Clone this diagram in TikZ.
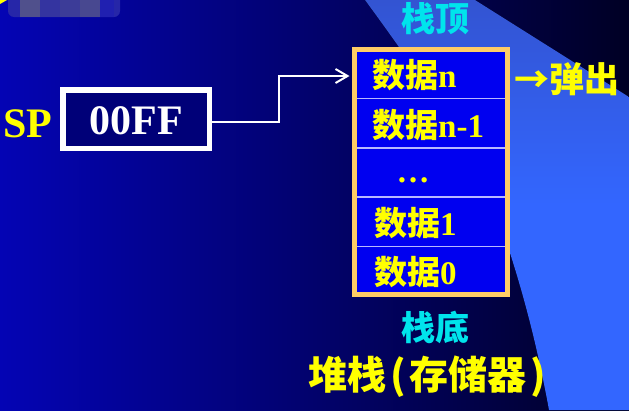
\documentclass[tikz,border=0pt]{standalone}
\usepackage{fontspec}
\setmainfont{Liberation Serif}
\newfontfamily\cjk{Noto Sans CJK SC}
\usetikzlibrary{arrows.meta}
\definecolor{bgL}{HTML}{0404B4}
\definecolor{bgR}{HTML}{000024}
\definecolor{swT}{HTML}{3354D2}
\definecolor{swB}{HTML}{3366FF}
\definecolor{stackfill}{HTML}{0000F0}
\definecolor{stackedge}{HTML}{FFCC66}
\definecolor{sepcol}{HTML}{B8B8FF}
\definecolor{spfill}{HTML}{000078}
\definecolor{ylw}{HTML}{FFFF00}
\definecolor{cyn}{HTML}{00E4EC}
\definecolor{mosA}{HTML}{2626A8}
\definecolor{mosB}{HTML}{50508C}
\definecolor{mosC}{HTML}{3434A0}
\definecolor{mosD}{HTML}{3C3C98}
\definecolor{mosE}{HTML}{484890}
\definecolor{mosF}{HTML}{2020B0}
\begin{document}
\begin{tikzpicture}[x=1pt,y=-1pt,
  rowtxt/.style={anchor=base west, inner sep=0pt, text=ylw,
    font=\fontsize{33pt}{33pt}\selectfont\bfseries},
  cyantxt/.style={inner sep=0pt, text=cyn,
    font=\cjk\fontsize{34pt}{34pt}\selectfont\bfseries},
  conn/.style={draw=white, line width=2pt,
    -{Straight Barb[length=12pt,width=14pt]}},
  seprule/.style={draw=sepcol, line width=1.5pt},
]
\useasboundingbox (0,0) rectangle (629,410);
% background
\fill[left color=bgL, right color=bgR] (0,0) rectangle (629,410);
% light blue swoosh
\fill[top color=swT, bottom color=swB, middle color=swB]
  (365,0) -- (475,0) -- (629,97) -- (629,410) -- (549,410)
  .. controls (538,350) and (525,300) .. (510,253)
  .. controls (480,160) and (420,75) .. (365,0) -- cycle;
% blurred mark top-left
\fill[mosA, rounded corners=6pt] (8,-10) rectangle (120,17);
\fill[mosB] (20,0) rectangle (40,17);
\fill[mosC] (40,0) rectangle (60,17);
\fill[mosD] (60,0) rectangle (80,17);
\fill[mosE] (80,0) rectangle (100,17);
\fill[mosF] (100,0) rectangle (114,17);
\fill[ylw] (0,0) -- (7,0) -- (0,4) -- cycle;

% SP register
\node[anchor=base west, inner sep=0pt, text=ylw,
  font=\fontsize{42pt}{42pt}\selectfont\bfseries] (sp) at (3,137) {SP};
\node[draw=white, line width=5.5pt, fill=spfill, minimum width=146.5pt,
  minimum height=58.5pt, inner sep=0pt, text=white,
  font=\fontsize{42pt}{42pt}\selectfont\bfseries,
  text height=30pt, text depth=0pt] (spbox) at (136,119) {00FF};

% stack
\node[draw=stackedge, line width=5pt, fill=stackfill, minimum width=153pt,
  minimum height=245pt, inner sep=0pt] (stack) at (431,172) {};
\draw[seprule] (357,98.5) -- (505,98.5);
\draw[seprule] (357,148) -- (505,148);
\draw[seprule] (357,197) -- (505,197);
\draw[seprule] (357,246.5) -- (505,246.5);

\node[rowtxt] (r1) at (372,87) {{\cjk 数据}n};
\node[rowtxt] (r2) at (372,137) {{\cjk 数据}n-1};
\node[anchor=base, inner sep=0pt, text=ylw,
  font=\fontsize{33pt}{33pt}\selectfont\bfseries] (r3) at (413,182) {…};
\node[rowtxt] (r4) at (374,235) {{\cjk 数据}1};
\node[rowtxt] (r5) at (374,284) {{\cjk 数据}0};

% labels
\node[cyantxt] (top) at (435,19) {栈顶};
\node[cyantxt] (bottom) at (435,327) {栈底};
\node[anchor=base west, inner sep=0pt, text=ylw,
  font=\cjk\fontsize{35pt}{35pt}\selectfont\bfseries] (pop) at (514,92) {→弹出};
\node[anchor=base west, inner sep=0pt, text=ylw,
  font=\cjk\fontsize{39pt}{39pt}\selectfont\bfseries] (title) at (308,389)
  {堆栈\kern4pt(\kern4pt存储器\kern4pt)};

% pointer arrow
\coordinate (bend) at (279,76);
\coordinate (tip) at ([xshift=-2.5pt]stack.west);
\draw[conn] ([yshift=-3pt]spbox.east) -| (bend) -- (tip |- bend);
\end{tikzpicture}
\end{document}
